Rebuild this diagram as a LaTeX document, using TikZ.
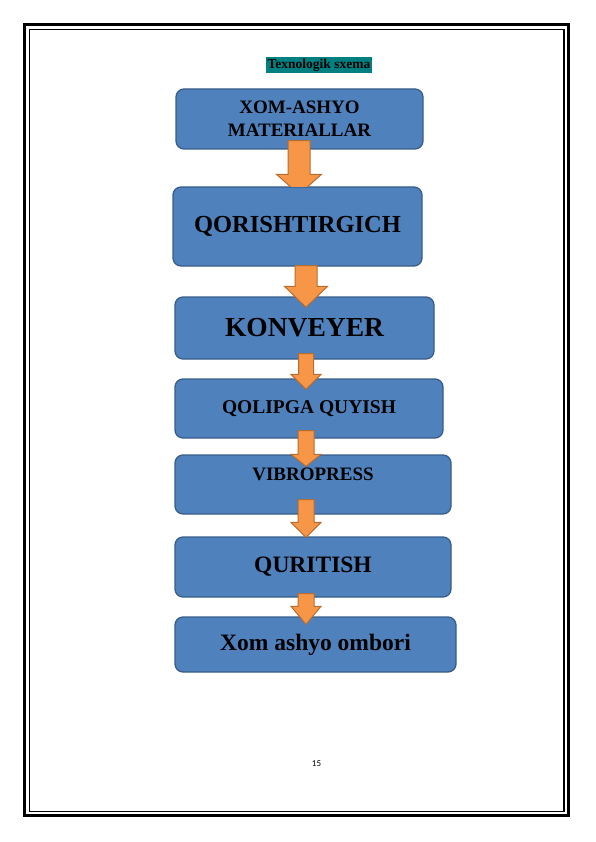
\documentclass[tikz,border=0pt]{standalone}
\usepackage{fontspec}
\setmainfont{Liberation Serif}
\newfontfamily\pagenumfont{Carlito}
\usetikzlibrary{calc}

\definecolor{stageblue}{HTML}{4F81BD}
\definecolor{stageline}{HTML}{385D8A}
\definecolor{flowfill}{HTML}{F79646}
\definecolor{flowline}{HTML}{B66D31}
\definecolor{marker}{RGB}{0,128,128}

\tikzstyle{stage}=[draw=stageline,fill=stageblue,line width=1.3pt,rounded corners=8pt,inner sep=0pt,align=center]
\tikzstyle{flow}=[draw=flowline,fill=flowfill,line width=1pt]
\tikzstyle{frame}=[draw=black]
% block arrow: source, target, x, shaft half width, head half width, start above source, tip below target, head length
\newcommand{\flowarrow}[8]{%
    \path[flow] let \p1=(#1.south), \p2=(#2.north) in
        ({(#3-#4)*1pt},{\y1+#6*1pt}) -- ({(#3+#4)*1pt},{\y1+#6*1pt})
        -- ({(#3+#4)*1pt},{\y2+(#8-#7)*1pt}) -- ({(#3+#5)*1pt},{\y2+(#8-#7)*1pt})
        -- ({#3*1pt},{\y2-#7*1pt})
        -- ({(#3-#5)*1pt},{\y2+(#8-#7)*1pt}) -- ({(#3-#4)*1pt},{\y2+(#8-#7)*1pt}) -- cycle;}

\begin{document}
\begin{tikzpicture}[x=1pt, y=-1pt]
    \useasboundingbox (0,0) rectangle (595,842);
    \coordinate (pageedge) at (595,0);
    % First the page frame and the title
    \draw[frame, line width=2.2pt] (24.5,24.5) rectangle (568.5,815.5);
    \draw[frame, line width=1.2pt] (29.5,29.5) rectangle (564,811.5);
    \node[fill=marker, inner sep=1.5pt, font=\bfseries\fontsize{13.5}{14}\selectfont] (title) at (319,65) {Texnologik sxema};

    % Then the stages
    \foreach \pos/\w/\h/\name/\size/\label in {
        {(299.5,119)/247/60/raw/19/{XOM-ASHYO\\MATERIALLAR}},
        {(297.5,226.5)/249/79/mixer/24.5/{\raisebox{-5pt}{QORISHTIRGICH}}},
        {(304.5,328)/259/62/belt/27.5/{\raisebox{-5pt}{KONVEYER}}},
        {(309,408.5)/268/59/mould/19.5/{\raisebox{-4pt}{QOLIPGA QUYISH}}},
        {(313,484.5)/276/59/press/19/{\raisebox{20pt}{VIBROPRESS}}},
        {(313,567)/276/60/dry/23.5/{\raisebox{-4pt}{QURITISH}}},
        {(315.5,644.5)/281/55/store/23.5/{\raisebox{-4pt}{Xom ashyo ombori}}}}
        \node[stage, minimum width=\w pt, minimum height=\h pt,
              font=\bfseries\fontsize{\size}{23}\selectfont] (\name) at \pos {\label};

    % Connect the stages with block arrows
    \begin{scope}
        \clip (0,0) rectangle (mixer.north -| pageedge);
        \flowarrow{raw}{mixer}{299}{11}{22.5}{9}{8}{20}
    \end{scope}
    \foreach \source/\dest/\ax/\sw/\hw/\up/\dn/\hl in {mixer/belt/306/11/21.5/1/11/21, belt/mould/306/7.5/15/6/11/15,
        mould/press/306/8/15/8/12/12, press/dry/306/8/15/15/1/15, dry/store/306/8/15/4/8/18}
        {\flowarrow{\source}{\dest}{\ax}{\sw}{\hw}{\up}{\dn}{\hl}}

    \node[font=\pagenumfont\fontsize{9}{10}\selectfont] (pagenum) at (316.5,764) {15};
\end{tikzpicture}
\end{document}
